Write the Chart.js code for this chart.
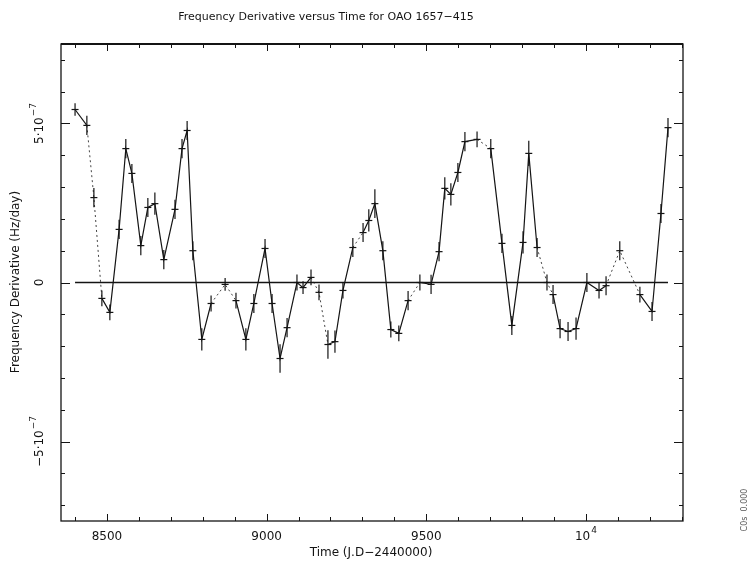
<!DOCTYPE html>
<html>
<head>
<meta charset="utf-8">
<script src="https://cdn.jsdelivr.net/npm/chart.js@4"></script>
<style>
  body { margin: 0; background: #fff; }
  canvas { display: block; }
</style>
</head>
<body>
<canvas id="fdotChart" width="752" height="565"></canvas>
<script>
// ======== DATA ========
// time of each measurement, JD - 2440000
const times = [8400, 8437, 8459, 8484, 8509, 8538, 8559, 8578, 8606, 8628,
    8650, 8678, 8713, 8735, 8751, 8769, 8797, 8826, 8870, 8904,
    8935, 8960, 8995, 9017, 9042, 9064, 9095, 9114, 9139, 9164,
    9192, 9214, 9239, 9270, 9302, 9320, 9339, 9364, 9389, 9414,
    9443, 9480, 9515, 9540, 9558, 9577, 9599, 9621, 9659, 9702,
    9737, 9768, 9803, 9821, 9847, 9878, 9897, 9919, 9944, 9969,
    10003, 10041, 10063, 10106, 10169, 10207, 10235, 10257];

// frequency derivative, units of 1e-7 Hz/day
const fdot = [5.44, 4.94, 2.67, -0.5, -0.94, 1.67, 4.21, 3.43, 1.16, 2.36,
    2.48, 0.72, 2.30, 4.21, 4.78, 1.0, -1.79, -0.66, -0.06, -0.57,
    -1.79, -0.66, 1.07, -0.66, -2.39, -1.42, 0, -0.16, 0.16, -0.31,
    -1.95, -1.86, -0.25, 1.1, 1.57, 1.95, 2.48, 1.0, -1.48, -1.6,
    -0.57, 0, -0.06, 0.97, 2.96, 2.77, 3.46, 4.43, 4.5, 4.21,
    1.23, -1.35, 1.26, 4.06, 1.1, 0, -0.38, -1.45, -1.54, -1.45,
    0, -0.25, -0.1, 1.0, -0.38, -0.91, 2.17, 4.87];

// 1-sigma errors, same units
const fdotErr = [0.2, 0.3, 0.3, 0.25, 0.25, 0.3, 0.3, 0.3, 0.3, 0.3,
    0.35, 0.3, 0.3, 0.3, 0.3, 0.3, 0.35, 0.25, 0.2, 0.25,
    0.35, 0.3, 0.3, 0.3, 0.45, 0.3, 0.25, 0.2, 0.25, 0.25,
    0.45, 0.35, 0.25, 0.3, 0.3, 0.35, 0.45, 0.3, 0.25, 0.25,
    0.3, 0.25, 0.3, 0.3, 0.35, 0.35, 0.3, 0.3, 0.25, 0.3,
    0.3, 0.3, 0.35, 0.4, 0.3, 0.25, 0.3, 0.3, 0.3, 0.35,
    0.3, 0.25, 0.3, 0.3, 0.25, 0.3, 0.3, 0.3];

// segments drawn broken (index of the segment's first point)
const dashedFrom = [1, 2, 17, 18, 28, 29, 33, 40, 48, 54, 55, 62, 63];

// tick labels as [mantissa, exponent]
const xTickValues = [8500, 9000, 9500, 10000];
const xTickLabels = [["8500", ""], ["9000", ""], ["9500", ""], ["10", "4"]];
const yTickValues = [-5, 0, 5];
const yTickLabels = [["\u22125\u00b710", "\u22127"], ["0", ""], ["5\u00b710", "\u22127"]];

const X_MIN = 8356, X_MAX = 10304;
const Y_MIN = -7.5, Y_MAX = 7.5;

const points = times.map((t, i) => ({ x: t, y: fdot[i] }));
const zeroLine = [{ x: times[0], y: 0 }, { x: times[times.length - 1], y: 0 }];

const INK = "#141414";
const FONT = "'DejaVu Sans', sans-serif";

// draw "base^exp" centred on (0,0) of the current transform
function powerLabel(ctx, base, exp) {
    ctx.font = `12px ${FONT}`;
    const wb = ctx.measureText(base).width;
    ctx.font = `9px ${FONT}`;
    const we = exp ? ctx.measureText(exp).width + 1 : 0;
    const x0 = -(wb + we) / 2;
    ctx.textAlign = "left";
    ctx.textBaseline = "middle";
    ctx.font = `12px ${FONT}`;
    ctx.fillText(base, x0, 0);
    if (exp) {
        ctx.font = `9px ${FONT}`;
        ctx.fillText(exp, x0 + wb + 1, -6);
    }
}

// ======== ERROR BARS ========
const errorBars = {
    id: "errorBars",
    afterDatasetsDraw(chart) {
        const { ctx, scales: { x, y } } = chart;
        ctx.save();
        ctx.strokeStyle = INK;
        ctx.lineWidth = 1.2;
        times.forEach((t, i) => {
            const px = x.getPixelForValue(t);
            ctx.beginPath();
            ctx.moveTo(px, y.getPixelForValue(fdot[i] + fdotErr[i]));
            ctx.lineTo(px, y.getPixelForValue(fdot[i] - fdotErr[i]));
            ctx.stroke();
        });
        ctx.restore();
    },
};

// ======== FRAME, TICKS AND TEXT ========
const frame = {
    id: "frame",
    afterDraw(chart) {
        const { ctx, chartArea: a, scales: { x, y } } = chart;
        ctx.save();
        ctx.strokeStyle = INK;
        ctx.fillStyle = INK;

        ctx.lineWidth = 1.3;
        ctx.strokeRect(a.left, a.top, a.right - a.left, a.bottom - a.top);
        ctx.lineWidth = 2;
        ctx.beginPath();
        ctx.moveTo(a.left, a.top);
        ctx.lineTo(a.right, a.top);
        ctx.stroke();

        // inward ticks, minor every 100 days / 1e-7
        ctx.lineWidth = 1;
        for (let v = 8400; v <= X_MAX; v += 100) {
            const px = Math.round(x.getPixelForValue(v)) + 0.5;
            const len = v % 500 === 0 ? 7 : 4;
            ctx.beginPath();
            ctx.moveTo(px, a.bottom); ctx.lineTo(px, a.bottom - len);
            ctx.moveTo(px, a.top); ctx.lineTo(px, a.top + len);
            ctx.stroke();
        }
        for (let v = -7; v <= 7; v += 1) {
            const py = Math.round(y.getPixelForValue(v)) + 0.5;
            const len = v % 5 === 0 ? 9 : 4;
            ctx.beginPath();
            ctx.moveTo(a.left, py); ctx.lineTo(a.left + len, py);
            ctx.moveTo(a.right, py); ctx.lineTo(a.right - len, py);
            ctx.stroke();
        }

        // x tick labels
        xTickValues.forEach((v, i) => {
            ctx.save();
            ctx.translate(x.getPixelForValue(v), 537);
            powerLabel(ctx, xTickLabels[i][0], xTickLabels[i][1]);
            ctx.restore();
        });

        // y tick labels, rotated
        yTickValues.forEach((v, i) => {
            ctx.save();
            ctx.translate(40, y.getPixelForValue(v));
            ctx.rotate(-Math.PI / 2);
            powerLabel(ctx, yTickLabels[i][0], yTickLabels[i][1]);
            ctx.restore();
        });

        // axis titles
        ctx.textAlign = "center";
        ctx.textBaseline = "middle";
        ctx.font = `12px ${FONT}`;
        ctx.fillText("Time (J.D\u22122440000)", 371, 553);
        ctx.save();
        ctx.translate(16, 282);
        ctx.rotate(-Math.PI / 2);
        ctx.fillText("Frequency Derivative (Hz/day)", 0, 0);
        ctx.restore();

        // main title
        ctx.font = `11px ${FONT}`;
        ctx.fillText("Frequency Derivative versus Time for OAO 1657\u2212415", 326, 17);

        // plot stamp on the right margin
        ctx.font = `8px ${FONT}`;
        ctx.fillStyle = "#555";
        ctx.save();
        ctx.translate(745, 510);
        ctx.rotate(-Math.PI / 2);
        ctx.fillText("C0s  0.000", 0, 0);
        ctx.restore();

        ctx.restore();
    },
};

// ======== CHART ========
new Chart(document.getElementById("fdotChart"), {
    type: "scatter",
    data: {
        datasets: [
            {
                data: zeroLine,
                showLine: true,
                borderColor: INK,
                borderWidth: 1.5,
                pointRadius: 0,
            },
            {
                data: points,
                showLine: true,
                borderColor: INK,
                borderWidth: 1.2,
                pointStyle: "line",
                pointRadius: 3.5,
                pointBorderColor: INK,
                pointBorderWidth: 1.2,
                segment: {
                    borderDash: (ctx) => (dashedFrom.includes(ctx.p0DataIndex) ? [2, 3] : undefined),
                    borderWidth: (ctx) => (dashedFrom.includes(ctx.p0DataIndex) ? 1 : undefined),
                    borderColor: (ctx) => (dashedFrom.includes(ctx.p0DataIndex) ? "#444" : undefined),
                },
            },
        ],
    },
    options: {
        responsive: false,
        animation: false,
        layout: { padding: { left: 61, right: 69, top: 44, bottom: 44 } },
        plugins: { legend: { display: false }, tooltip: { enabled: false } },
        scales: {
            x: { type: "linear", min: X_MIN, max: X_MAX, display: false },
            y: { type: "linear", min: Y_MIN, max: Y_MAX, display: false },
        },
    },
    plugins: [errorBars, frame],
});
</script>
</body>
</html>
